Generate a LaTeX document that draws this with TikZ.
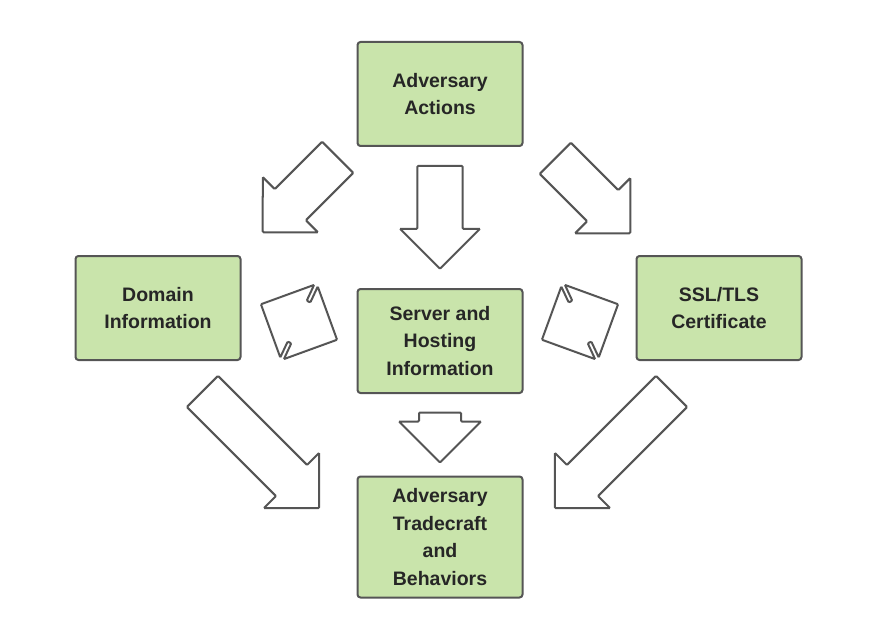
\documentclass[tikz,border=0pt]{standalone}
\usepackage{fontspec}
\setmainfont{Liberation Sans}
\usetikzlibrary{shapes.arrows}
\definecolor{boxgreen}{HTML}{C9E4AB}
\definecolor{edgegray}{HTML}{555555}
\tikzset{
    info box/.style={draw=edgegray, line width=2pt, fill=boxgreen, rounded corners=3pt,
        minimum width=165pt, minimum height=104pt, align=center,
        font=\fontsize{19.5}{27.5}\selectfont\bfseries, text=black!85},
    flow arrow/.style={single arrow, draw=edgegray, line width=2pt, fill=white,
        minimum width=76pt, single arrow head extend=17pt, single arrow head indent=0pt,
        inner sep=0pt, rounded corners=1pt},
    swap arrow/.style={double arrow, draw=edgegray, line width=2pt, fill=white,
        minimum width=80pt, minimum height=84pt, double arrow head extend=17pt,
        inner sep=0pt, rounded corners=1pt}
}
\newcommand{\shaft}{\rule{0pt}{42pt}}
\begin{document}
\begin{tikzpicture}[x=1pt, y=1pt]
    \useasboundingbox (0,0) rectangle (869,641);
    % boxes
    \node[info box] (actions) at (440,547) {Adversary\\Actions};
    \node[info box] (domain) at (158,333) {Domain\\Information};
    \node[info box] (server) at (440,300) {Server and\\Hosting\\Information};
    \node[info box] (ssl) at (719,333) {SSL/TLS\\Certificate};
    \node[info box, minimum height=121pt] (trade) at (440,104) {Adversary\\Tradecraft\\and\\Behaviors};
    % block arrows
    \node[flow arrow, minimum height=106pt, rotate=225] (a1) at (308,454) {\shaft};
    \node[flow arrow, minimum height=103pt, minimum width=80pt, rotate=270] (a2) at (440,435) {\shaft};
    \node[flow arrow, minimum height=106pt, rotate=-45] (a3) at (585,453) {\shaft};
    \node[flow arrow, minimum height=165pt, rotate=-45] (a4) at (253,199) {\shaft};
    \node[flow arrow, minimum height=50pt, minimum width=80pt, rotate=270, single arrow head extend=20pt] (a5) at (440,214) {\rule{0pt}{40pt}};
    \node[flow arrow, minimum height=165pt, rotate=225] (a6) at (621,199) {\shaft};
    \node[swap arrow, rotate=-25] (s1) at (299,319) {\shaft};
    \node[swap arrow, rotate=25] (s2) at (580,319) {\shaft};
\end{tikzpicture}
\end{document}
